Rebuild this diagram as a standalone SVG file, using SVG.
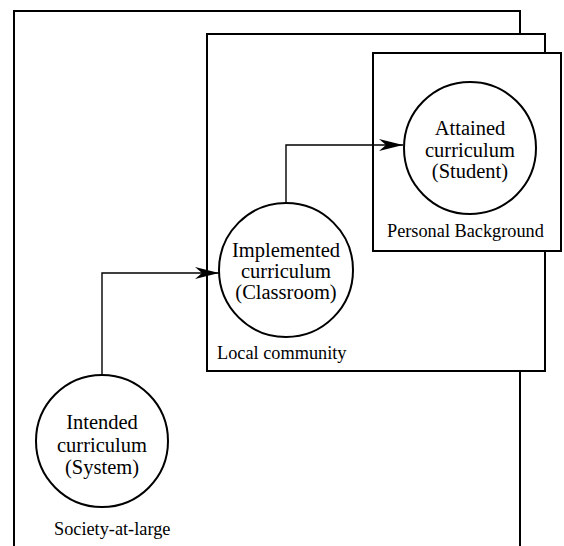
<svg xmlns="http://www.w3.org/2000/svg" width="564" height="546" viewBox="0 0 564 546">
<style>
.box{fill:#fff;stroke:#000;stroke-width:2}
.node{fill:#fff;stroke:#000;stroke-width:2}
.conn{fill:none;stroke:#000;stroke-width:1.4}
.t{font-family:"Liberation Serif","Times New Roman",serif;font-size:20.5px;fill:#000;text-anchor:middle}
.lbl{font-family:"Liberation Serif","Times New Roman",serif;font-size:18.3px;fill:#000}
</style>
<defs>
<marker id="arr" markerUnits="userSpaceOnUse" markerWidth="26" markerHeight="14" refX="24" refY="7" orient="auto">
<path d="M0,1 L24,7 L0,13 L7,7 Z" fill="#000"/>
</marker>
</defs>
<rect width="564" height="546" fill="#fff"/>
<g id="society">
<rect class="box" x="14" y="11" width="506" height="560"/>
<text class="lbl" x="54" y="535">Society-at-large</text>
</g>
<g id="local">
<rect class="box" x="207" y="34" width="338" height="337"/>
<text class="lbl" x="217" y="359">Local community</text>
</g>
<g id="personal">
<rect class="box" x="373" y="53" width="188" height="198"/>
<text class="lbl" x="387" y="237">Personal Background</text>
</g>
<g id="connectors">
<path class="conn" d="M102,375 V273 H219" marker-end="url(#arr)"/>
<path class="conn" d="M286,203 V145 H403" marker-end="url(#arr)"/>
</g>
<g id="intended">
<circle class="node" cx="102" cy="441" r="66"/>
<text class="t" x="102" y="429">Intended</text>
<text class="t" x="102" y="452">curriculum</text>
<text class="t" x="102" y="474">(System)</text>
</g>
<g id="implemented">
<circle class="node" cx="286" cy="270" r="67"/>
<text class="t" x="286" y="257">Implemented</text>
<text class="t" x="286" y="278">curriculum</text>
<text class="t" x="286" y="299">(Classroom)</text>
</g>
<g id="attained">
<circle class="node" cx="470" cy="148" r="66"/>
<text class="t" x="470" y="135">Attained</text>
<text class="t" x="470" y="157">curriculum</text>
<text class="t" x="470" y="178">(Student)</text>
</g>
</svg>
